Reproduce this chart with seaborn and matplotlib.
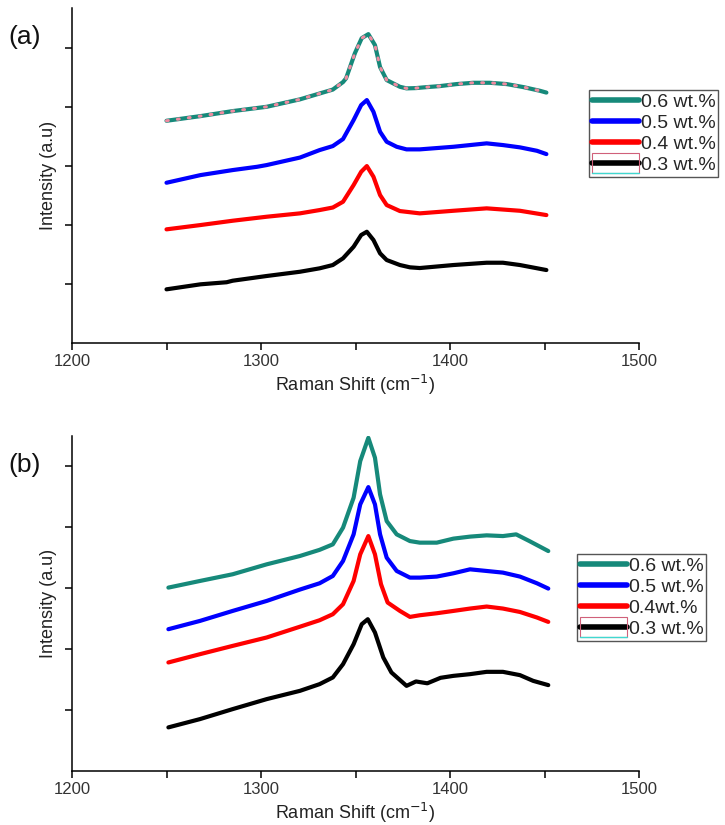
import matplotlib
matplotlib.use("Agg")
import matplotlib.pyplot as plt
from matplotlib.patches import Rectangle
from matplotlib.lines import Line2D
import seaborn as sns
import pandas as pd

# ---------------- data: Raman spectra (offset, arbitrary units) ----------------
labels_a = ["0.6 wt.%", "0.5 wt.%", "0.4 wt.%", "0.3 wt.%"]
labels_b = ["0.6 wt.%", "0.5 wt.%", "0.4wt.%", "0.3 wt.%"]
colors = ["#16897a", "#0000ff", "#ff0000", "#000000"]

# panel (a)
a06_x = [1250, 1268, 1285, 1303, 1320.6, 1338, 1343.4, 1345, 1349.7, 1353.3, 1356.8, 1360.3, 1363, 1366.5,
         1373.5, 1377, 1382, 1386, 1394.7, 1403.5, 1412.3, 1421, 1430, 1438.8, 1447.6, 1451]
a06_y = [3.768, 3.847, 3.932, 4.005, 4.131, 4.297, 4.424, 4.487, 4.915, 5.169, 5.237, 5.051, 4.678, 4.458,
         4.344, 4.317, 4.322, 4.334, 4.356, 4.390, 4.412, 4.412, 4.390, 4.339, 4.276, 4.246]

a05_x = [1250, 1268, 1285, 1298, 1303, 1320.6, 1331, 1338, 1343.4, 1349, 1353, 1356, 1359.5, 1363, 1366.5,
         1371.8, 1377, 1384, 1401.8, 1410.6, 1419.4, 1428, 1437, 1446, 1451]
a05_y = [2.717, 2.847, 2.932, 2.988, 3.017, 3.144, 3.271, 3.339, 3.458, 3.780, 4.034, 4.119, 3.920, 3.581,
         3.412, 3.327, 3.283, 3.283, 3.327, 3.356, 3.385, 3.356, 3.317, 3.259, 3.203]

a04_x = [1250, 1268, 1285, 1303, 1320.6, 1331, 1338, 1343.4, 1349, 1353, 1356, 1359.5, 1363, 1366.5,
         1373.5, 1384, 1401.8, 1419.4, 1437, 1451]
a04_y = [1.927, 2.000, 2.073, 2.141, 2.198, 2.254, 2.297, 2.395, 2.678, 2.903, 3.000, 2.819, 2.508, 2.339,
         2.237, 2.198, 2.242, 2.283, 2.242, 2.169]

a03_x = [1250, 1268, 1281.8, 1285, 1303, 1320.6, 1331, 1338, 1343.4, 1349, 1353, 1356, 1359.5, 1363, 1366.5,
         1373.5, 1378.8, 1384, 1401.8, 1419.4, 1428, 1437, 1451]
a03_y = [0.910, 0.995, 1.030, 1.056, 1.136, 1.208, 1.266, 1.322, 1.436, 1.632, 1.831, 1.886, 1.746, 1.520,
         1.407, 1.322, 1.283, 1.271, 1.322, 1.361, 1.361, 1.322, 1.237]

# panel (b)
b06_x = [1251, 1267.7, 1285, 1303, 1320.6, 1331, 1338, 1343.4, 1349, 1352.5, 1356.8, 1360.3, 1363, 1366.5,
         1371.8, 1378.8, 1384, 1393, 1401.8, 1410.6, 1419.4, 1428, 1435, 1442, 1452]
b06_y = [3.011, 3.120, 3.230, 3.393, 3.530, 3.631, 3.721, 3.995, 4.487, 5.087, 5.470, 5.143, 4.541, 4.103,
         3.885, 3.775, 3.749, 3.749, 3.815, 3.848, 3.869, 3.857, 3.885, 3.775, 3.611]

b05_x = [1251, 1267.7, 1285, 1303, 1320.6, 1331, 1338, 1343.4, 1349, 1352.5, 1356.8, 1360.3, 1363, 1366.5,
         1371.8, 1378.8, 1384, 1393, 1401.8, 1410.6, 1419.4, 1428, 1437, 1446, 1452]
b05_y = [2.328, 2.464, 2.628, 2.792, 2.979, 3.082, 3.202, 3.448, 3.885, 4.377, 4.661, 4.377, 3.885, 3.503,
         3.284, 3.175, 3.175, 3.192, 3.246, 3.311, 3.284, 3.257, 3.192, 3.082, 2.995]

b04_x = [1251, 1267.7, 1285, 1303, 1320.6, 1331, 1338, 1343.4, 1349, 1352.5, 1356.8, 1360.3, 1363.5, 1367,
         1373.5, 1378.8, 1384, 1393, 1401.8, 1410.6, 1419.4, 1428, 1437, 1446, 1452]
b04_y = [1.782, 1.918, 2.054, 2.192, 2.369, 2.475, 2.574, 2.738, 3.120, 3.557, 3.857, 3.557, 3.066, 2.766,
         2.628, 2.530, 2.557, 2.590, 2.628, 2.667, 2.700, 2.667, 2.611, 2.520, 2.448]

b03_x = [1251, 1267.7, 1285, 1303, 1320.6, 1331, 1338, 1343.4, 1349, 1353.3, 1356.5, 1360.3, 1364.7, 1369,
         1377, 1382, 1388, 1395, 1401.8, 1410.6, 1419.4, 1428, 1437, 1444, 1452]
b03_y = [0.716, 0.852, 1.016, 1.180, 1.316, 1.426, 1.536, 1.754, 2.082, 2.410, 2.492, 2.274, 1.864, 1.618,
         1.398, 1.470, 1.440, 1.530, 1.562, 1.590, 1.628, 1.628, 1.574, 1.480, 1.410]

x_major = [1200, 1300, 1400, 1500]
x_minor = [1250, 1350, 1450]
y_ticks = [1, 2, 3, 4, 5]

# ---------------- style ----------------
sns.set_theme(style="ticks")
plt.rcParams["font.family"] = ["Liberation Sans", "DejaVu Sans"]
plt.rcParams["axes.linewidth"] = 1.1

fig = plt.figure(figsize=(7.25, 8.25), dpi=100)
fig.patch.set_facecolor("white")

ax_a = fig.add_axes([72 / 725, 1 - 343 / 825, (639 - 72) / 725, (343 - 8) / 825])
ax_b = fig.add_axes([72 / 725, 1 - 771 / 825, (639 - 72) / 725, (771 - 436) / 825])

panel_a = [(a06_x, a06_y), (a05_x, a05_y), (a04_x, a04_y), (a03_x, a03_y)]
panel_b = [(b06_x, b06_y), (b05_x, b05_y), (b04_x, b04_y), (b03_x, b03_y)]


def draw_panel(ax, series, labels, ylim, tag, legend_anchor, dotted_top=False):
    for (xs, ys), c in zip(series[::-1], colors[::-1]):
        df = pd.DataFrame({"shift": xs, "intensity": ys})
        sns.lineplot(data=df, x="shift", y="intensity", color=c, lw=3.0, ax=ax,
                     legend=False, solid_capstyle="round", solid_joinstyle="round")
    if dotted_top:
        df = pd.DataFrame({"shift": series[0][0], "intensity": series[0][1]})
        sns.lineplot(data=df, x="shift", y="intensity", color="#f08aa0", lw=2.2,
                     linestyle=(0, (0.6, 3.0)), ax=ax, legend=False, dash_capstyle="round")

    ax.set_xlim(1200, 1500)
    ax.set_ylim(*ylim)
    ax.set_xticks(x_major)
    ax.set_xticks(x_minor, minor=True)
    ax.set_yticks(y_ticks)
    ax.set_yticklabels([])
    ax.tick_params(axis="both", which="both", direction="out", length=5, width=1.1,
                   colors="black", labelsize=12, labelcolor="#333333", pad=3)
    for s in ("top", "right"):
        ax.spines[s].set_visible(False)
    ax.spines["left"].set_color("black")
    ax.spines["bottom"].set_color("black")
    ax.set_xlabel("Raman Shift (cm$^{-1}$)", fontsize=13, color="#222222", labelpad=3)
    ax.set_ylabel("Intensity (a.u)", fontsize=13, color="#222222", labelpad=3)
    ax.set_facecolor("white")

    handles = [Line2D([], [], color=c, lw=4) for c in colors]
    leg = ax.legend(handles, labels, loc="upper left", bbox_to_anchor=legend_anchor,
                    bbox_transform=fig.transFigure, fontsize=14, frameon=True, fancybox=False,
                    edgecolor="#555555", framealpha=1, handlelength=2.4, handletextpad=0.1,
                    labelspacing=0.18, borderpad=0.15, borderaxespad=0)
    leg.get_frame().set_linewidth(1.0)
    fig.text(0.012, ax.get_position().y1 - 29 / 825, tag, fontsize=19, va="center", ha="left",
             color="#111111")
    return leg


leg_a = draw_panel(ax_a, panel_a, labels_a, (0, 5.68), "(a)", (589 / 725, 1 - 90 / 825), dotted_top=True)
leg_b = draw_panel(ax_b, panel_b, labels_b, (0, 5.5), "(b)", (577 / 725, 1 - 554 / 825))

# thin outline box around the last legend key
fig.canvas.draw()
for leg in (leg_a, leg_b):
    h = leg.legend_handles[-1]
    bb = h.get_window_extent(fig.canvas.get_renderer()).transformed(fig.transFigure.inverted())
    ymid = (bb.y0 + bb.y1) / 2
    hh = 10 / 825
    fig.patches.append(Rectangle((bb.x0, ymid - hh), bb.width, 2 * hh, transform=fig.transFigure,
                                 fill=False, edgecolor="#d0607a", lw=0.8, zorder=10))
    fig.lines.append(Line2D([bb.x0, bb.x1], [ymid - hh, ymid - hh], transform=fig.transFigure,
                            color="#40d8d0", lw=1.0, zorder=11))

fig.savefig("out.png", dpi=100, facecolor="white")
